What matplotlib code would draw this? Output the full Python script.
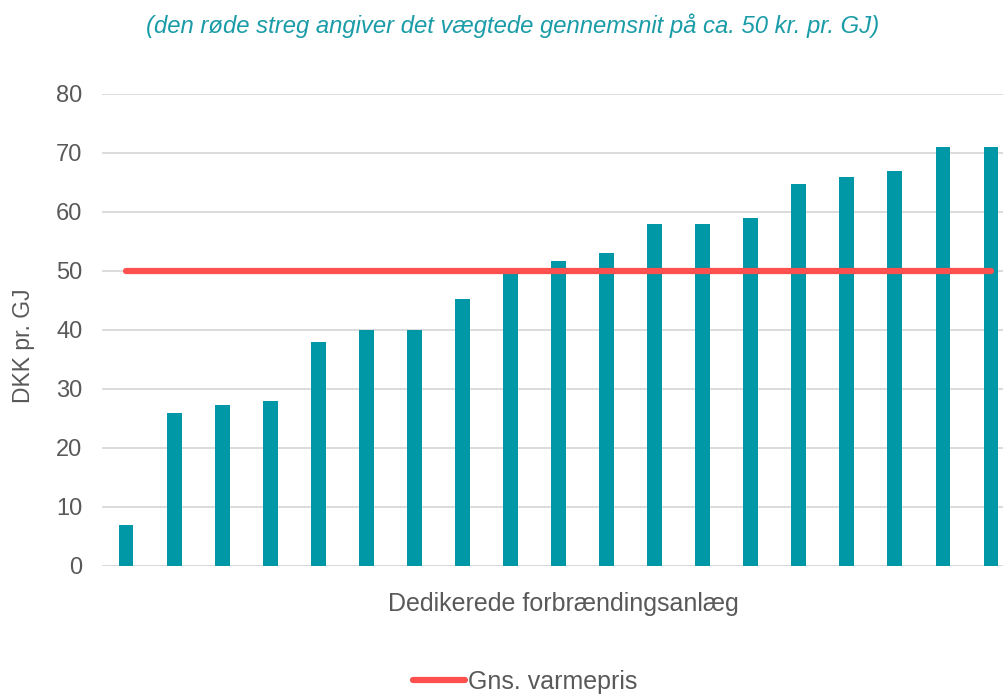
import numpy as np
import matplotlib.pyplot as plt

plt.rcParams['font.family'] = ['Liberation Sans', 'DejaVu Sans']

# values
prices = [7, 26, 27.3, 28, 38, 40, 40, 45.3, 50, 51.7, 53, 58, 58, 59, 64.7, 66, 67, 71, 71]
avg_price = 50
yticks = [0, 10, 20, 30, 40, 50, 60, 70, 80]

bar_color = '#0097A7'
line_color = '#FF5050'
text_color = '#595959'

fig = plt.figure(figsize=(10.04, 6.96), dpi=100)
ax = fig.add_axes([0.1016, 0.1868, 0.8984, 0.6782])

x = np.arange(len(prices))
ax.bar(x, prices, width=0.31, color=bar_color, zorder=2)
line, = ax.plot([x[0], x[-1]], [avg_price, avg_price], color=line_color, lw=4.5,
                solid_capstyle='round', zorder=3, label='Gns. varmepris')

ax.set_ylim(0, 80)
ax.set_xlim(-0.5, len(prices) - 1 + 0.27)
ax.set_yticks(yticks)
ax.set_xticks([])
ax.tick_params(axis='y', length=0, labelsize=17, labelcolor=text_color, pad=14)
ax.grid(axis='y', color='#D9D9D9', lw=1.3, zorder=0)
for s in ax.spines.values():
    s.set_visible(False)
ax.axhline(0, color='#D9D9D9', lw=2, zorder=1)

ax.set_ylabel('DKK pr. GJ', fontsize=16.5, color=text_color)
ax.yaxis.set_label_coords(-0.074, 0.466)
ax.set_xlabel('Dedikerede forbrændingsanlæg', fontsize=18, color=text_color)
ax.xaxis.set_label_coords(0.512, -0.055)

fig.text(0.511, 0.963, '(den røde streg angiver det vægtede gennemsnit på ca. 50 kr. pr. GJ)',
         ha='center', va='center', fontsize=17.2, style='italic', color='#1A9CA8')

fig.legend(handles=[line], loc='center', bbox_to_anchor=(0.523, 0.02), frameon=False,
           fontsize=18, labelcolor=text_color, handlelength=2.1, handletextpad=0.1)

fig.savefig('out.png', dpi=100)
